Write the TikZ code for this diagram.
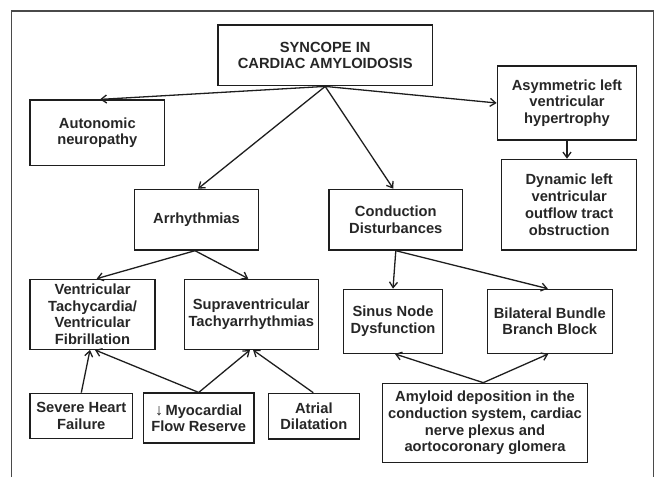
\documentclass[tikz,border=0pt]{standalone}
\usepackage{fontspec}
\setmainfont{Liberation Sans}
\usetikzlibrary{arrows.meta}
\definecolor{framecol}{HTML}{4A4A4A}
\definecolor{ink}{HTML}{1E1E1E}
\definecolor{txt}{HTML}{262626}
\begin{document}
\begin{tikzpicture}[x=1pt,y=-1pt,
  box/.style={draw=ink,line width=1.3pt,inner sep=0pt,align=center,text=txt,
    font=\bfseries\fontsize{14.7}{16.7}\selectfont},
  conn/.style={draw=ink,line width=1.3pt,-{Straight Barb[length=5.5pt,width=8pt]}}]
\useasboundingbox (0,0) rectangle (656,477);
\draw[framecol,line width=1.5pt] (11.5,477) -- (11.5,11) -- (653.3,11) -- (653.3,477);

\node[box,minimum width=214.3pt,minimum height=60.7pt] (top) at (325.2,55.4) {SYNCOPE IN\\CARDIAC AMYLOIDOSIS};
\node[box,minimum width=134.7pt,minimum height=65.3pt] (auto) at (97.3,132.7) {Autonomic\\neuropathy};
\node[box,minimum width=139.4pt,minimum height=74pt] (asym) at (567,103) {Asymmetric left\\ventricular\\hypertrophy};
\node[box,minimum width=135pt,minimum height=90.7pt] (dyn) at (569.2,204.7) {Dynamic left\\ventricular\\outflow tract\\obstruction};
\node[box,minimum width=123.6pt,minimum height=60.7pt] (arr) at (196.5,219.7) {Arrhythmias};
\node[box,minimum width=133.7pt,minimum height=60.7pt] (cond) at (395.8,219.7) {Conduction\\Disturbances};
\node[box,minimum width=125pt,minimum height=70pt] (vt) at (92.5,314.3) {Ventricular\\Tachycardia/\\Ventricular\\Fibrillation};
\node[box,minimum width=134pt,minimum height=70pt] (supra) at (251.3,314.3) {Supraventricular\\Tachyarrhythmias};
\node[box,minimum width=99.4pt,minimum height=64pt] (sinus) at (393,321.3) {Sinus Node\\Dysfunction};
\node[box,minimum width=125pt,minimum height=64pt] (bbb) at (549.8,321.3) {Bilateral Bundle\\Branch Block};
\node[box,minimum width=102.7pt,minimum height=45pt] (shf) at (81.3,415.8) {Severe Heart\\Failure};
\node[box,line width=1.7pt,minimum width=110.7pt,minimum height=50pt] (myo) at (198.7,418.3) {{\mdseries\fontsize{16}{16.7}\selectfont ↓}\,Myocardial\\Flow Reserve};
\node[box,minimum width=91pt,minimum height=45.7pt] (atr) at (313.8,416.2) {Atrial\\Dilatation};
\node[box,minimum width=204.6pt,minimum height=79.4pt] (amy) at (485,423) {Amyloid deposition in the\\conduction system, cardiac\\nerve plexus and\\aortocoronary glomera};

\draw[conn] (top.south) -- ([xshift=2.7pt]auto.north);
\draw[conn] (top.south) -- ([xshift=1.5pt]arr.north);
\draw[conn] (top.south) -- ([xshift=-2.5pt]cond.north);
\draw[conn] (top.south) -- (asym.west);
\draw[conn] (asym.south) -- (asym.south |- dyn.north);
\draw[conn] ([xshift=-1.5pt]arr.south) -- ([xshift=4.2pt]vt.north);
\draw[conn] ([xshift=-1.5pt]arr.south) -- ([xshift=-3pt]supra.north);
\draw[conn] (cond.south) -- (sinus.north);
\draw[conn] (cond.south) -- ([xshift=-2pt]bbb.north);
\draw[conn] (shf.north) -- ([xshift=-2.5pt]vt.south);
\draw[conn] (myo.north) -- ([xshift=2.5pt]vt.south);
\draw[conn] (myo.north) -- ([xshift=-1.3pt]supra.south);
\draw[conn] ([xshift=-0.5pt]atr.north) -- ([xshift=1.7pt]supra.south);
\draw[conn] ([xshift=-1.7pt]amy.north) -- ([xshift=2pt]sinus.south);
\draw[conn] ([xshift=-1.7pt]amy.north) -- ([xshift=-1.5pt]bbb.south);
\end{tikzpicture}
\end{document}
